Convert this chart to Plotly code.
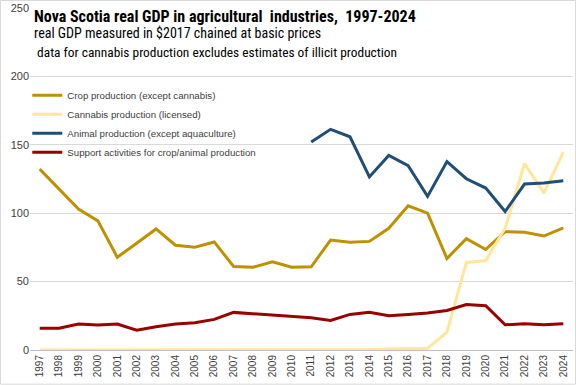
import plotly.graph_objects as go

years = [str(y) for y in range(1997, 2025)]

crop = [132.2, 117.6, 103, 94.4, 67.8, 78, 88.5, 76.6, 75.1, 79, 61, 60.5, 64.4, 60.5,
        60.8, 80.4, 78.7, 79.4, 89, 105.4, 100, 66.9, 81.4, 73.5, 86.5, 86, 83.3, 89.2]
cannabis = [0, 0, 0, 0, 0, 0, 0, 0, 0, 0, 0, 0, 0, 0,
            0, 0, 0, 0.4, 0.8, 1, 1.2, 13, 64, 65.4, 89, 136.3, 114.7, 144.6]
animal = [None] * 14 + [152, 161.3, 155.9, 126.5, 142.2, 134.8, 112.3, 137.7, 125.2, 118.4,
                        101.2, 121.3, 122, 123.8]
support = [15.9, 15.9, 19, 18.3, 19, 14.4, 17, 19, 20, 22.4, 27.5, 26.6, 25.4, 24.4,
           23.5, 21.6, 26, 27.5, 25, 26, 27, 28.9, 33.3, 32.4, 18.4, 19.1, 18.4, 19.1]

names = ["Crop production (except cannabis)", "Cannabis production (licensed)",
         "Animal production (except aquaculture)", "Support activities for crop/animal production"]
colors = ["#BF9000", "#FFE699", "#1F4E79", "#990000"]
series = [crop, cannabis, animal, support]

title = "Nova Scotia real GDP in agricultural  industries,  1997-2024"
sub1 = "real GDP measured in $2017 chained at basic prices"
sub2 = " data for cannabis production excludes estimates of illicit production"

fig = go.Figure()
for n, c, s in zip(names, colors, series):
    fig.add_trace(go.Scatter(x=years, y=s, name=n, mode="lines",
                             line=dict(color=c, width=3), connectgaps=False))

font_main = "Liberation Sans Narrow, Arial Narrow, Roboto Condensed, Liberation Sans, sans-serif"
fig.update_layout(
    width=576, height=385,
    margin=dict(l=30, r=3, t=8, b=35),
    paper_bgcolor="white", plot_bgcolor="white",
    font=dict(family="Liberation Sans, Arial, sans-serif", color="#404040", size=11),
    showlegend=True,
    legend=dict(x=-0.005, y=0.787, xanchor="left", yanchor="top", bgcolor="rgba(0,0,0,0)",
                font=dict(size=9.7, color="#404040"), tracegroupgap=0, itemwidth=30),
    xaxis=dict(type="category", tickangle=-90, showgrid=False, showline=True,
               linecolor="#BFBFBF", linewidth=1, ticks="", tickfont=dict(size=10, color="#404040"),
               range=[-0.5, 27.5]),
    yaxis=dict(range=[0, 250], dtick=50, showgrid=True, gridcolor="#D9D9D9", gridwidth=1,
               zeroline=False, showline=False, ticks="", tickfont=dict(size=11, color="#404040")),
    annotations=[
        dict(text="<b>" + title + "</b>", x=0.003, y=0.974, xref="paper", yref="paper",
             xanchor="left", yanchor="middle", showarrow=False,
             font=dict(size=16, color="#000000", family=font_main)),
        dict(text=sub1, x=0.003, y=0.927, xref="paper", yref="paper",
             xanchor="left", yanchor="middle", showarrow=False,
             font=dict(size=14, color="#000000", family=font_main)),
        dict(text=sub2, x=0.003, y=0.871, xref="paper", yref="paper",
             xanchor="left", yanchor="middle", showarrow=False,
             font=dict(size=13.4, color="#000000", family=font_main)),
    ],
    shapes=[dict(type="rect", xref="paper", yref="paper", x0=-0.0543, x1=1.0046, y0=-0.1, y1=1.0219,
                 line=dict(color="#D9D9D9", width=1))],
)

fig.write_html("out.html", config={"displayModeBar": False},
               post_script="document.body.style.margin='0';document.body.style.overflow='hidden';")
